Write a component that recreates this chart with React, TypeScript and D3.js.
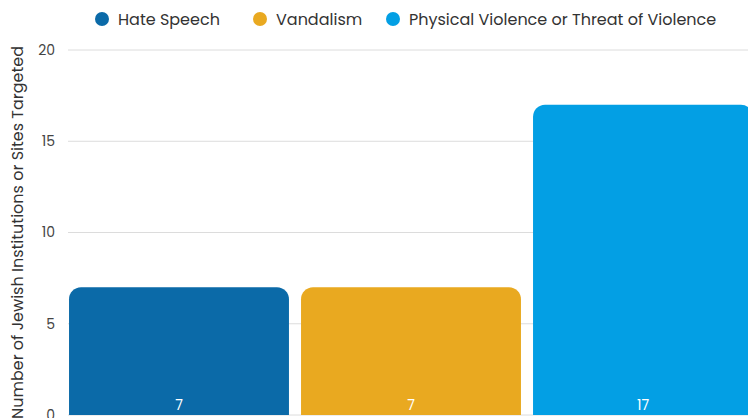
import React, { useEffect, useRef } from 'react';
import * as d3 from 'd3';

const categories = ['Hate Speech', 'Vandalism', 'Physical Violence or Threat of Violence'];
const values = [7, 7, 17];
const colors = ['#0b6aa8', '#e9a920', '#039fe4'];
const yTicks = [0, 5, 10, 15, 20];

export default function App() {
  const svgRef = useRef<SVGSVGElement>(null);

  useEffect(() => {
    document.body.style.margin = '0';
    if (!svgRef.current) return;
    const svg = d3.select(svgRef.current);
    svg.selectAll('*').remove();

    const font = 'Poppins, Inter, "Open Sans", sans-serif';
    const width = 748;
    const top = 50;
    const bottom = 415;

    const x = d3
      .scaleBand()
      .domain(categories)
      .range([63, 759])
      .paddingInner(0.052)
      .paddingOuter(0.026);

    const y = d3.scaleLinear().domain([0, 20]).range([bottom, top]);

    // gridlines
    svg
      .append('g')
      .selectAll('line')
      .data(yTicks)
      .enter()
      .append('line')
      .attr('x1', 68)
      .attr('x2', width)
      .attr('y1', (d) => y(d))
      .attr('y2', (d) => y(d))
      .attr('stroke', '#dcdcdc')
      .attr('stroke-width', 1);

    // tick labels
    svg
      .append('g')
      .selectAll('text')
      .data(yTicks)
      .enter()
      .append('text')
      .attr('x', 55)
      .attr('y', (d) => y(d))
      .attr('dy', '0.35em')
      .attr('text-anchor', 'end')
      .attr('font-family', font)
      .attr('font-size', 14)
      .attr('fill', '#444')
      .text((d) => d);

    // y title
    svg
      .append('text')
      .attr('transform', `translate(17,${(top + bottom) / 2}) rotate(-90)`)
      .attr('text-anchor', 'middle')
      .attr('dy', '0.35em')
      .attr('font-family', font)
      .attr('font-size', 16)
      .attr('fill', '#333')
      .text('Number of Jewish Institutions or Sites Targeted');

    // bars with rounded top corners
    const r = 12;
    const barPath = (x0: number, w: number, y0: number, y1: number) => {
      const p = d3.path();
      p.moveTo(x0, y1);
      p.lineTo(x0, y0 + r);
      p.arcTo(x0, y0, x0 + r, y0, r);
      p.lineTo(x0 + w - r, y0);
      p.arcTo(x0 + w, y0, x0 + w, y0 + r, r);
      p.lineTo(x0 + w, y1);
      p.closePath();
      return p.toString();
    };

    const bars = svg.append('g');
    categories.forEach((c, i) => {
      const bx = x(c) || 0;
      bars
        .append('path')
        .attr('d', barPath(bx, x.bandwidth(), y(values[i]), y(0)))
        .attr('fill', colors[i]);
      bars
        .append('text')
        .attr('x', bx + x.bandwidth() / 2)
        .attr('y', y(0) - 10)
        .attr('dy', '0.35em')
        .attr('text-anchor', 'middle')
        .attr('font-family', font)
        .attr('font-size', 14)
        .attr('fill', '#ffffff')
        .text(values[i]);
    });

    // legend
    const legendX = [102, 260, 393];
    const legend = svg.append('g');
    categories.forEach((c, i) => {
      legend
        .append('circle')
        .attr('cx', legendX[i])
        .attr('cy', 19)
        .attr('r', 7)
        .attr('fill', colors[i]);
      legend
        .append('text')
        .attr('x', legendX[i] + 16)
        .attr('y', 19)
        .attr('dy', '0.35em')
        .attr('font-family', font)
        .attr('font-size', 16)
        .attr('fill', '#333')
        .text(c);
    });
  }, []);

  return (
    <svg
      ref={svgRef}
      width={748}
      height={418}
      style={{ display: 'block', overflow: 'hidden', background: '#fff' }}
    />
  );
}
